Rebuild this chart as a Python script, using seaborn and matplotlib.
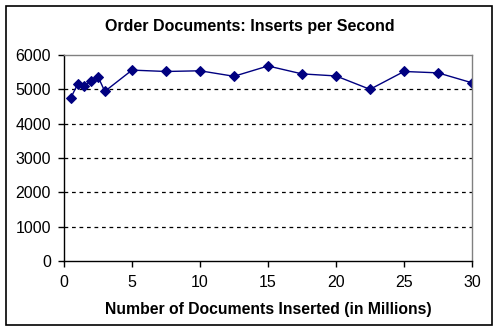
import matplotlib
matplotlib.use("Agg")
import matplotlib.pyplot as plt
import seaborn as sns
import pandas as pd
from matplotlib.patches import Rectangle

docs_millions = [0.5, 1, 1.5, 2, 2.5, 3, 5, 7.5, 10, 12.5, 15, 17.5, 20, 22.5, 25, 27.5, 30]
inserts_per_sec = [4750, 5150, 5100, 5240, 5370, 4940, 5560, 5520, 5540, 5380, 5680, 5450, 5390, 5000, 5520, 5480, 5190]
x_ticks = [0, 5, 10, 15, 20, 25, 30]
y_ticks = [0, 1000, 2000, 3000, 4000, 5000, 6000]
title = "Order Documents: Inserts per Second"
x_label = "Number of Documents Inserted (in Millions)"

df = pd.DataFrame({"docs": docs_millions, "ips": inserts_per_sec})

sns.set_style("white")
plt.rcParams["font.family"] = ["Liberation Sans", "DejaVu Sans"]

fig = plt.figure(figsize=(4.98, 3.30), dpi=100)
ax = fig.add_axes([64/498, 1 - 261/330, (472-64)/498, (261-55)/330])

sns.lineplot(data=df, x="docs", y="ips", ax=ax, color="#000080", linewidth=1.0,
             marker="D", markersize=5, markeredgecolor="#000080", markerfacecolor="#000080")

ax.set_xlim(0, 30)
ax.set_ylim(0, 6000)
ax.set_xticks(x_ticks)
ax.set_yticks(y_ticks)
ax.set_xticklabels([str(v) for v in x_ticks], fontsize=11.5, color="black")
ax.set_yticklabels([str(v) for v in y_ticks], fontsize=11.5, color="black")
ax.tick_params(axis="both", direction="out", length=4, width=1, color="black",
               left=True, bottom=True)
ax.tick_params(axis="x", pad=6)
ax.tick_params(axis="y", pad=5.5)

for v in y_ticks[1:-1]:
    ax.axhline(v, color="black", linestyle=(0, (3, 3)), linewidth=0.9, zorder=0)

for s in ["left", "bottom"]:
    ax.spines[s].set_color("black")
    ax.spines[s].set_linewidth(1.0)
for s in ["top", "right"]:
    ax.spines[s].set_color("#808080")
    ax.spines[s].set_linewidth(1.0)

ax.set_ylabel("")
ax.set_xlabel(x_label, fontsize=11.3, fontweight="bold", labelpad=9, color="black")
fig.text(250/498, 1 - 26/330, title, ha="center", va="center", fontsize=11.5,
         fontweight="bold", color="black")

fig.add_artist(Rectangle((6/498, 1 - 325/330), (492-6)/498, (325-6)/330,
                         transform=fig.transFigure, fill=False, edgecolor="black", linewidth=1.2))

fig.savefig("out.png", dpi=100)
